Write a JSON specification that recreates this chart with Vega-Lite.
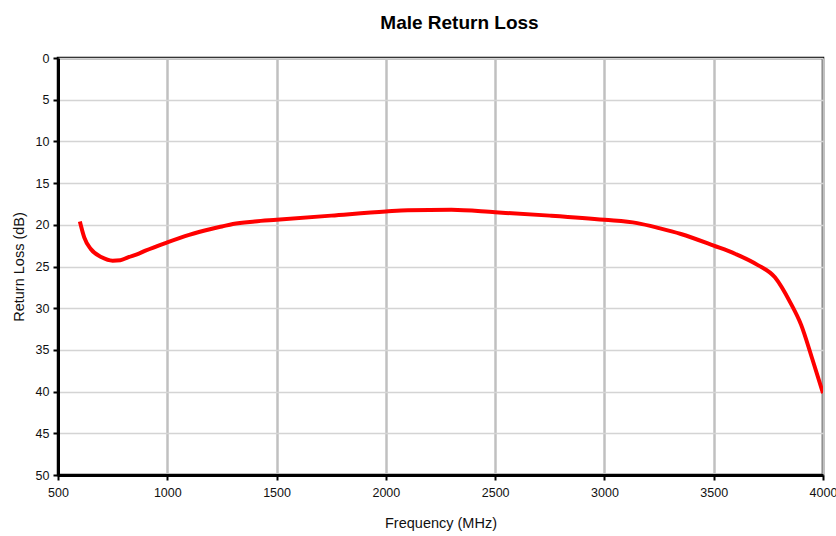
{
  "$schema": "https://vega.github.io/schema/vega-lite/v6.json",
  "width": 765,
  "height": 417,
  "autosize": {"type": "none"},
  "padding": {"left": 58, "top": 58, "right": 13, "bottom": 61},
  "background": "white",
  "title": {
    "text": "Male Return Loss",
    "font": "Liberation Sans",
    "fontSize": 19,
    "fontWeight": "bold",
    "color": "black",
    "anchor": "middle",
    "dx": 19,
    "offset": 19
  },
  "config": {
    "view": {"stroke": "black", "strokeWidth": 2.5},
    "axis": {
      "labelFont": "Liberation Sans",
      "titleFont": "Liberation Sans",
      "labelFontSize": 12.5,
      "titleFontSize": 14.5,
      "titleFontWeight": "normal",
      "labelColor": "#111",
      "titleColor": "#111",
      "domainColor": "black",
      "domainWidth": 3,
      "tickColor": "black",
      "tickWidth": 2,
      "tickSize": 5,
      "labelFlush": false,
      "labelOverlap": false
    }
  },
  "data": {
    "values": [
      {"f": 600, "rl": 19.6},
      {"f": 620, "rl": 21.5},
      {"f": 650, "rl": 22.9},
      {"f": 700, "rl": 23.9},
      {"f": 750, "rl": 24.3},
      {"f": 785, "rl": 24.25},
      {"f": 820, "rl": 23.9},
      {"f": 870, "rl": 23.45},
      {"f": 900, "rl": 23.1},
      {"f": 1000, "rl": 22.1},
      {"f": 1100, "rl": 21.2},
      {"f": 1200, "rl": 20.5},
      {"f": 1250, "rl": 20.2},
      {"f": 1300, "rl": 19.9},
      {"f": 1400, "rl": 19.6},
      {"f": 1500, "rl": 19.4},
      {"f": 1750, "rl": 18.9},
      {"f": 2000, "rl": 18.4},
      {"f": 2100, "rl": 18.25},
      {"f": 2300, "rl": 18.2},
      {"f": 2500, "rl": 18.5},
      {"f": 2750, "rl": 18.9},
      {"f": 3000, "rl": 19.4},
      {"f": 3150, "rl": 19.8},
      {"f": 3250, "rl": 20.4},
      {"f": 3350, "rl": 21.1},
      {"f": 3500, "rl": 22.5},
      {"f": 3600, "rl": 23.5},
      {"f": 3700, "rl": 24.8},
      {"f": 3780, "rl": 26.3},
      {"f": 3850, "rl": 29.3},
      {"f": 3900, "rl": 32.0},
      {"f": 3950, "rl": 36.0},
      {"f": 4000, "rl": 40.2}
    ]
  },
  "mark": {"type": "line", "color": "#ff0000", "strokeWidth": 4, "interpolate": "monotone", "clip": true},
  "encoding": {
    "x": {
      "field": "f",
      "type": "quantitative",
      "title": "Frequency (MHz)",
      "scale": {"domain": [500, 4000], "nice": false, "zero": false},
      "axis": {
        "values": [500, 1000, 1500, 2000, 2500, 3000, 3500, 4000],
        "format": "d",
        "labelPadding": 6,
        "titlePadding": 18,
        "grid": true,
        "gridColor": "#c0c0c0",
        "gridWidth": 2.5
      }
    },
    "y": {
      "field": "rl",
      "type": "quantitative",
      "title": "Return Loss (dB)",
      "scale": {"domain": [0, 50], "reverse": true, "nice": false},
      "axis": {
        "values": [0, 5, 10, 15, 20, 25, 30, 35, 40, 45, 50],
        "labelPadding": 4,
        "titlePadding": 9,
        "grid": true,
        "gridColor": "#d4d4d4",
        "gridWidth": 1.5
      }
    }
  }
}
